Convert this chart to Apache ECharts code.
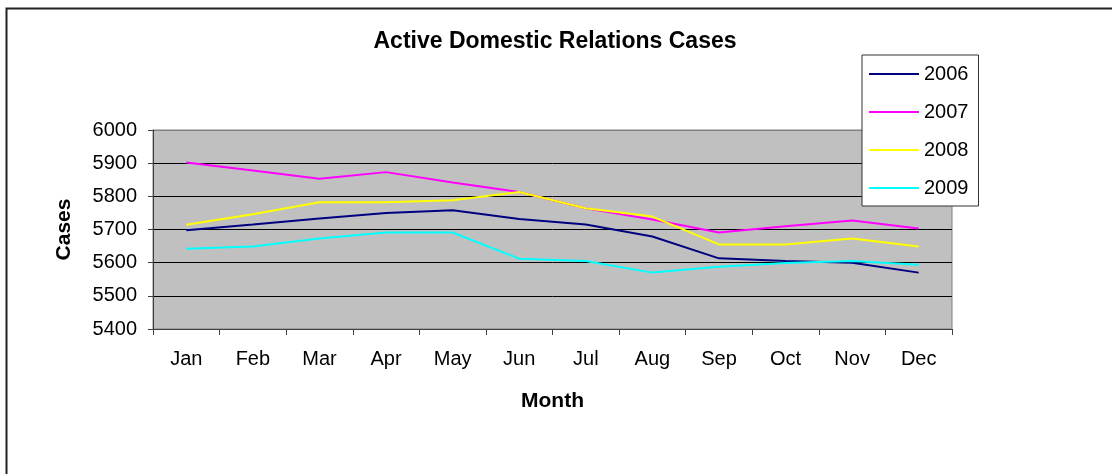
<!DOCTYPE html>
<html>
<head>
<meta charset="utf-8">
<script src="https://cdn.jsdelivr.net/npm/echarts@6/dist/echarts.min.js"></script>
<style>
  html, body { margin: 0; padding: 0; background: #fff; }
  #chart { width: 1112px; height: 474px; }
</style>
</head>
<body>
<div id="chart"></div>
<script>
const months = ['Jan', 'Feb', 'Mar', 'Apr', 'May', 'Jun', 'Jul', 'Aug', 'Sep', 'Oct', 'Nov', 'Dec'];
const cases2006 = [5698, 5715, 5733, 5750, 5758, 5732, 5715, 5679, 5613, 5605, 5600, 5570];
const cases2007 = [5902, 5878, 5853, 5873, 5842, 5813, 5764, 5730, 5691, 5710, 5727, 5703];
const cases2008 = [5714, 5746, 5782, 5782, 5788, 5813, 5764, 5739, 5655, 5655, 5673, 5649];
const cases2009 = [5642, 5649, 5673, 5691, 5691, 5612, 5605, 5570, 5588, 5599, 5605, 5594];

const chart = echarts.init(document.getElementById('chart'));

const fontFamily = 'Liberation Sans, Arial, sans-serif';

function lineSeries(name, data, color) {
  return {
    name: name,
    type: 'line',
    data: data,
    symbol: 'none',
    lineStyle: { color: color, width: 2 },
    itemStyle: { color: color },
    animation: false
  };
}

const option = {
  backgroundColor: '#ffffff',
  animation: false,
  textStyle: { fontFamily: fontFamily, color: '#000' },
  title: {
    text: 'Active Domestic Relations Cases',
    left: 550,
    top: 25,
    textAlign: 'center',
    textStyle: { fontSize: 23, fontWeight: 'bold', color: '#000', fontFamily: fontFamily }
  },
  graphic: [{
    type: 'rect',
    left: 4,
    top: 6,
    shape: { width: 1130, height: 500 },
    style: { fill: null, stroke: '#222', lineWidth: 2 },
    silent: true
  }],
  legend: {
    orient: 'vertical',
    left: 862,
    top: 55,
    padding: [9, 10, 8, 7],
    icon: 'rect',
    itemWidth: 50,
    itemHeight: 2,
    itemGap: 18,
    backgroundColor: '#fff',
    borderColor: '#333',
    borderWidth: 1,
    borderRadius: 0,
    textStyle: { fontSize: 20, color: '#000', fontFamily: fontFamily, lineHeight: 20 },
    data: ['2006', '2007', '2008', '2009']
  },
  grid: {
    left: 153,
    right: 160,
    top: 130,
    bottom: 145,
    show: true,
    backgroundColor: '#c0c0c0',
    borderColor: '#808080',
    borderWidth: 1
  },
  xAxis: {
    type: 'category',
    data: months,
    boundaryGap: true,
    name: 'Month',
    nameLocation: 'middle',
    nameGap: 62,
    nameTextStyle: { fontSize: 21, fontWeight: 'bold', color: '#000' },
    axisLine: { lineStyle: { color: '#404040', width: 1 } },
    axisTick: { show: true, length: 6, lineStyle: { color: '#404040' } },
    axisLabel: { fontSize: 20, color: '#000', margin: 20 },
    splitLine: { show: false }
  },
  yAxis: {
    type: 'value',
    min: 5400,
    max: 6000,
    interval: 100,
    name: 'Cases',
    nameLocation: 'middle',
    nameGap: 78,
    nameTextStyle: { fontSize: 21, fontWeight: 'bold', color: '#000' },
    axisLine: { show: true, lineStyle: { color: '#404040', width: 1 } },
    axisTick: { show: true, length: 5, lineStyle: { color: '#404040' } },
    axisLabel: { fontSize: 20, color: '#000', margin: 16, formatter: v => String(v) },
    splitLine: {
      show: true,
      lineStyle: {
        color: ['#404040', '#000', '#000', '#000', '#000', '#000', '#808080'],
        width: 1
      }
    }
  },
  series: [
    lineSeries('2006', cases2006, '#000080'),
    lineSeries('2007', cases2007, '#ff00ff'),
    lineSeries('2008', cases2008, '#ffff00'),
    lineSeries('2009', cases2009, '#00ffff')
  ]
};

chart.setOption(option);
</script>
</body>
</html>
